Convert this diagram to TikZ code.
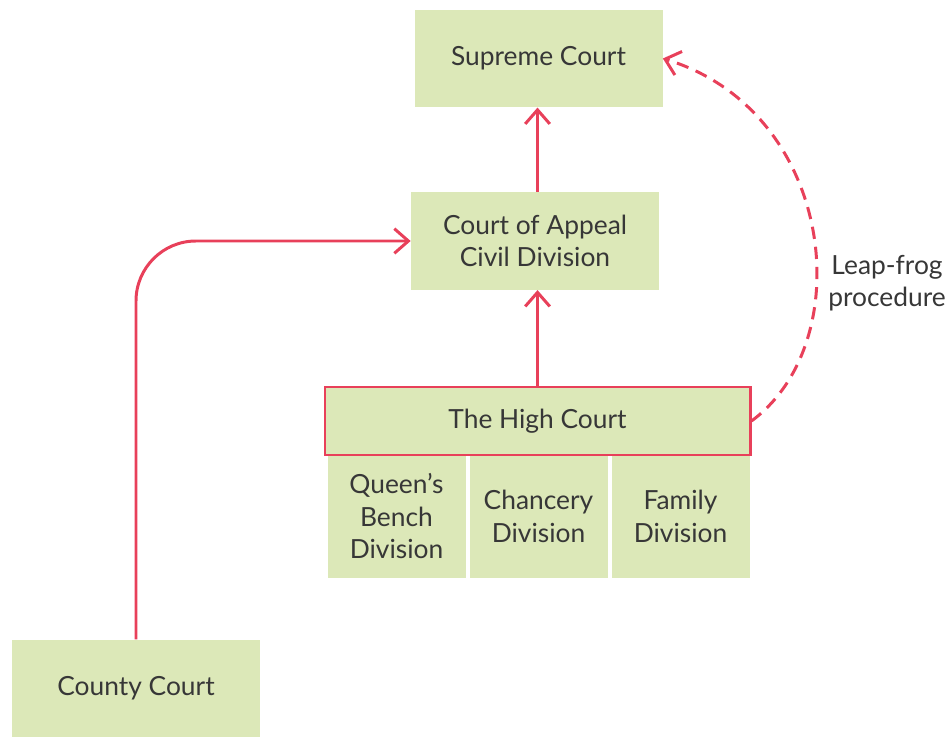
\documentclass[tikz,border=0pt]{standalone}
\usepackage{fontspec}
\setmainfont{Lato}
\usetikzlibrary{arrows.meta, positioning}
\definecolor{courtfill}{RGB}{220,232,184}
\definecolor{appealred}{RGB}{232,64,90}
\definecolor{courttext}{RGB}{55,55,55}

\begin{document}
\begin{tikzpicture}[
  every node/.style={font=\fontsize{15}{18.5}\selectfont, text=courttext},
  courtbox/.style={fill=courtfill, minimum width=4.96cm, minimum height=1.95cm,
               align=center},
  divbox/.style={fill=courtfill, minimum width=2.76cm, minimum height=2.46cm,
               align=center},
  route/.style={draw=appealred, line width=1.7pt},
  >={Straight Barb[length=8pt,width=14pt]}
]
\useasboundingbox (0,0) rectangle (19,14.72);

\node[courtbox] (supreme) at (10.77, 13.55) {Supreme Court};
\node[courtbox] (appeal) at (10.70, 9.90) {Court of Appeal\\Civil Division};
\node[courtbox] (county) at (2.72, 0.95) {County Court};

% divisions of the High Court
\node[divbox] (qbd) at (7.93, 4.39) {Queen's\\Bench\\Division};
\node[divbox] (chancery) at (10.77, 4.39) {Chancery\\Division};
\node[divbox] (family) at (13.61, 4.39) {Family\\Division};
\node[courtbox, route, minimum width=8.5cm, minimum height=1.36cm] (high)
  at (10.75, 6.30) {The High Court};

\draw[route, ->] (high.north) -- (high.north |- appeal.south);
\draw[route, ->] (appeal.north -| high.north) -- (high.north |- supreme.south);
\draw[route, ->, rounded corners=1.2cm] (county.north) |- (appeal.west);

% leap-frog
\draw[route, ->, dash pattern=on 7pt off 4.5pt] (high.east)
  .. controls (17.2, 7.9) and (16.7, 12.5) .. (supreme.east);
\node[align=center] (leapfrog) at (17.74, 9.06) {Leap-frog\\procedure};

\end{tikzpicture}
\end{document}
